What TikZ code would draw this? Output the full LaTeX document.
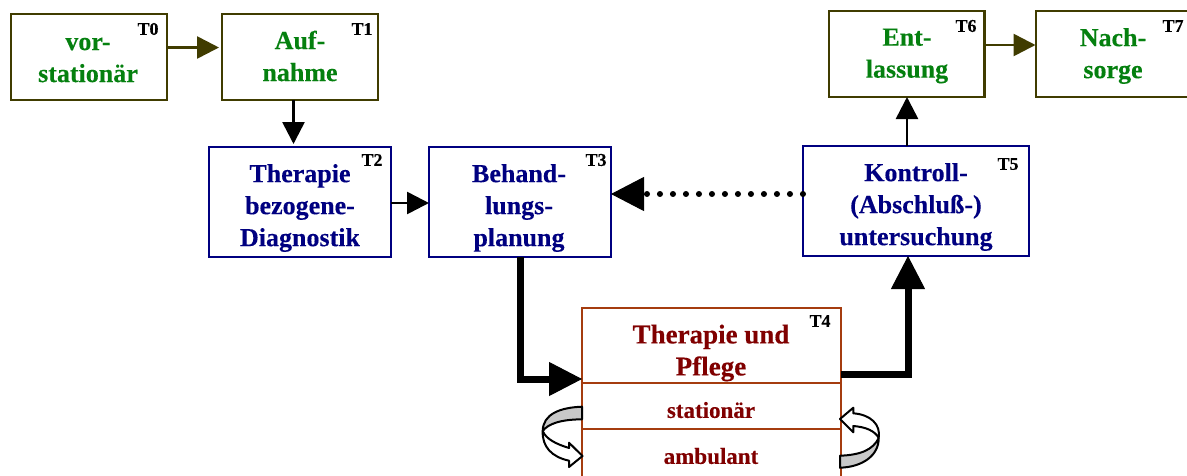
\documentclass[tikz,border=0pt]{standalone}
\usepackage{fontspec}
\setmainfont{Liberation Serif}[BoldFeatures={FakeBold=0.25}]
\usetikzlibrary{arrows.meta}
\definecolor{olivebox}{RGB}{64,60,0}
\definecolor{navybox}{RGB}{0,0,128}
\definecolor{brownbox}{RGB}{165,60,15}
\definecolor{greentxt}{RGB}{5,128,15}
\definecolor{redtxt}{RGB}{128,0,0}
\definecolor{grayband}{RGB}{200,200,200}
\tikzset{
  x=1pt,y=-1pt,
  anybox/.style={inner sep=0pt,outer sep=0pt,anchor=north west},
  oliveb/.style={anybox,draw=olivebox,line width=2.5pt},
  navyb/.style={anybox,draw=navybox,line width=2.5pt},
  brownb/.style={anybox,draw=brownbox,line width=2pt},
  tlabel/.style={font=\bfseries\fontsize{18}{20}\selectfont,text=black,inner sep=0pt},
  txt/.style={font=\bfseries\fontsize{26}{32}\selectfont,align=center,inner sep=0pt},
  small/.style={font=\bfseries\fontsize{23}{25}\selectfont,text=redtxt,inner sep=0pt},
  thin arrow/.style={line width=2.6pt,-{Triangle[length=22pt,width=22pt]}},
  head arrow/.style={line width=1pt,-{Triangle[length=33pt,width=34pt]}},
  heavy line/.style={line width=7pt},
  band/.style={fill=grayband,draw=black,line width=2pt,line join=round},
  sweep/.style={fill=white,draw=black,line width=2pt,line join=round},
}
\begin{document}
\begin{tikzpicture}
\useasboundingbox (0,0) rectangle (1187,475);
\clip (0,0) rectangle (1187,475);
\fill[white] (0,0) rectangle (1187,475);

\node[oliveb,minimum width=156pt,minimum height=86pt] (t0) at (11,14) {};
\node[oliveb,minimum width=156pt,minimum height=86pt] (t1) at (222,14) {};
\node[navyb,minimum width=182pt,minimum height=110pt] (t2) at (209,147) {};
\node[navyb,minimum width=182pt,minimum height=110pt] (t3) at (429,147) {};
\node[navyb,minimum width=226pt,minimum height=110pt] (t5) at (803,146) {};
\node[oliveb,minimum width=155.5pt,minimum height=86pt] (t6) at (829,11) {};
\node[oliveb,minimum width=170pt,minimum height=86pt] (t7) at (1036,11) {};
\node[brownb,minimum width=259pt,minimum height=75pt] (t4) at (582,308) {};
\node[brownb,minimum width=259pt,minimum height=46pt] (t4a) at (582,383) {};
\node[brownb,minimum width=259pt,minimum height=70pt] (t4b) at (582,429) {};

\node[txt,text=greentxt] (l0) at (88,60) {vor-\\stationär};
\node[txt,text=greentxt] (l1) at (300,56) {Auf-\\nahme};
\node[txt,text=navybox] (l2) at (300,208) {Therapie\\bezogene-\\Diagnostik};
\node[txt,text=navybox] (l3) at (519,208) {Behand-\\lungs-\\planung};
\node[txt,text=navybox] (l5) at (916,207) {Kontroll-\\(Abschluß-)\\untersuchung};
\node[txt,text=greentxt] (l6) at (907,56) {Ent-\\lassung};
\node[txt,text=greentxt] (l7) at (1113,56) {Nach-\\sorge};
\node[txt,text=redtxt,font=\bfseries\fontsize{27}{32}\selectfont] (l4) at (711,353) {Therapie und\\Pflege};
\node[small] (l4a) at (711,410) {stationär};
\node[small] (l4b) at (711,456) {ambulant};

\node[tlabel] (n0) at (148,29) {T0};
\node[tlabel] (n1) at (362,29) {T1};
\node[tlabel] (n2) at (372,160) {T2};
\node[tlabel] (n3) at (596,160) {T3};
\node[tlabel] (n4) at (820,321) {T4};
\node[tlabel] (n5) at (1008,164) {T5};
\node[tlabel] (n6) at (966,26) {T6};
\node[tlabel] (n7) at (1173,26) {T7};

\coordinate (a01) at (219,47.5);
\coordinate (a12) at (293.5,144);
\coordinate (a67) at (1035.5,45);
\draw[thin arrow,draw=olivebox,fill=olivebox] (t0.east |- a01) -- (a01);
\draw[thin arrow,draw=olivebox,fill=olivebox] (t6.east |- a67) -- (a67);
\draw[thin arrow] (t1.south -| a12) -- (a12);
\draw[thin arrow] (t2.east |- 0,203) -- (t3.west |- 0,203);
\draw[thin arrow] (t5.north -| 907,0) -- (t6.south -| 907,0);
\draw[line width=6pt,line cap=round,dash pattern=on 0.1pt off 12.9pt] (t5.west |- 0,194) -- (647,194);
\draw[head arrow] (646,194) -- (t3.east |- 0,194);
\draw[heavy line] (t3.south -| 520,0) -- (520,379) -- (552,379);
\draw[head arrow] (549,379) -- (t4.west |- 0,379);
\draw[heavy line] (t4.east |- 0,374) -- (908,374) -- (908,286);
\draw[head arrow] (908,290) -- (t5.south -| 908,0);

% rotation arrows
\path[band] (582,406.7) .. controls (560,407.5) and (543,414) .. (542.7,431)
  .. controls (548,424) and (560,419.5) .. (582,419.3) -- cycle;
\path[sweep] (542.7,431) .. controls (542,447) and (552,457) .. (569,460.7)
  -- (569,467) -- (582.5,456) -- (569,442.7) -- (569,448)
  .. controls (556,444) and (546,439) .. (542.7,431) -- cycle;
\path[band] (840,455.7) .. controls (860,455) and (873,450) .. (878.7,438)
  .. controls (879,455) and (863,467) .. (840,467.7) -- cycle;
\path[sweep] (878.7,438) .. controls (881,424) and (870,414.5) .. (853.3,413.3)
  -- (853.3,407.7) -- (840,419) -- (853.3,432.3) -- (853.3,426)
  .. controls (866,427) and (875,431) .. (878.7,438) -- cycle;
\end{tikzpicture}
\end{document}
